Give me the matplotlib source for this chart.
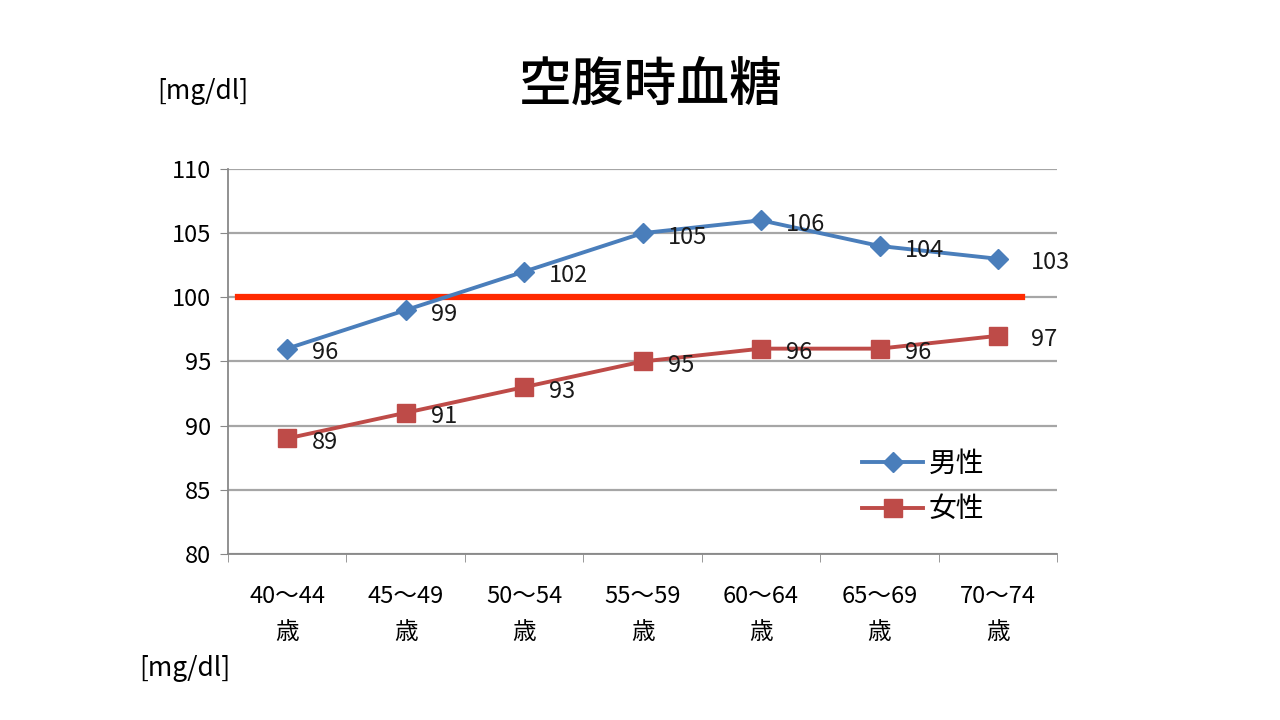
import matplotlib.pyplot as plt

plt.rcParams['font.family'] = ['Noto Sans CJK JP', 'DejaVu Sans']

# data
age_groups = ['40～44\n歳', '45～49\n歳', '50～54\n歳', '55～59\n歳',
              '60～64\n歳', '65～69\n歳', '70～74\n歳']
male = [96, 99, 102, 105, 106, 104, 103]
female = [89, 91, 93, 95, 96, 96, 97]
threshold = 100
yticks = [80, 85, 90, 95, 100, 105, 110]

fig = plt.figure(figsize=(12.8, 7.2), dpi=100)
ax = fig.add_axes([0.178, 0.2306, 0.648, 0.5347])

x = list(range(len(age_groups)))
ax.plot(x, male, color='#4A7EBB', lw=2.8, marker='D', ms=10, label='男性', zorder=3)
ax.plot(x, female, color='#BE4B48', lw=2.8, marker='s', ms=13, label='女性', zorder=3)

ax.axhline(threshold, xmin=0.012, xmax=0.957, color='#FF2A00', lw=4.5, zorder=2)

for series in (male, female):
    for i, v in enumerate(series):
        dx = 24 if i == len(series) - 1 else 18
        ax.annotate(str(v), (i, v), xytext=(dx, -3), textcoords='offset points',
                    ha='left', va='center', fontsize=17, color='#1a1a1a')

ax.set_xlim(-0.5, len(age_groups) - 0.5)
ax.set_ylim(80, 110)
ax.set_yticks(yticks)
ax.set_xticks(x)
ax.set_xticklabels(age_groups, fontsize=17, linespacing=1.75)
ax.set_xticks([i + 0.5 for i in range(-1, len(age_groups))], minor=True)
ax.tick_params(axis='x', which='major', length=0, pad=22)
ax.tick_params(axis='x', which='minor', length=6, color='#888888', direction='out')
ax.tick_params(axis='y', length=6, color='#888888', labelsize=17, pad=6)

ax.grid(axis='y', color='#A6A6A6', lw=1.6)
ax.set_axisbelow(True)
for s in ['top', 'right']:
    ax.spines[s].set_visible(False)
for s in ['left', 'bottom']:
    ax.spines[s].set_color('#888888')
    ax.spines[s].set_linewidth(1.3)

ax.legend(loc='lower right', bbox_to_anchor=(0.942, 0.012), frameon=False,
          fontsize=20, handlelength=2.2, labelspacing=0.55, handletextpad=0.2)

fig.text(0.508, 0.88, '空腹時血糖', ha='center', va='center', fontsize=38, fontweight='medium')
fig.text(0.123, 0.873, '[mg/dl]', ha='left', va='center', fontsize=19)
fig.text(0.109, 0.072, '[mg/dl]', ha='left', va='center', fontsize=19)

fig.savefig('out.png', dpi=100, facecolor='white')
